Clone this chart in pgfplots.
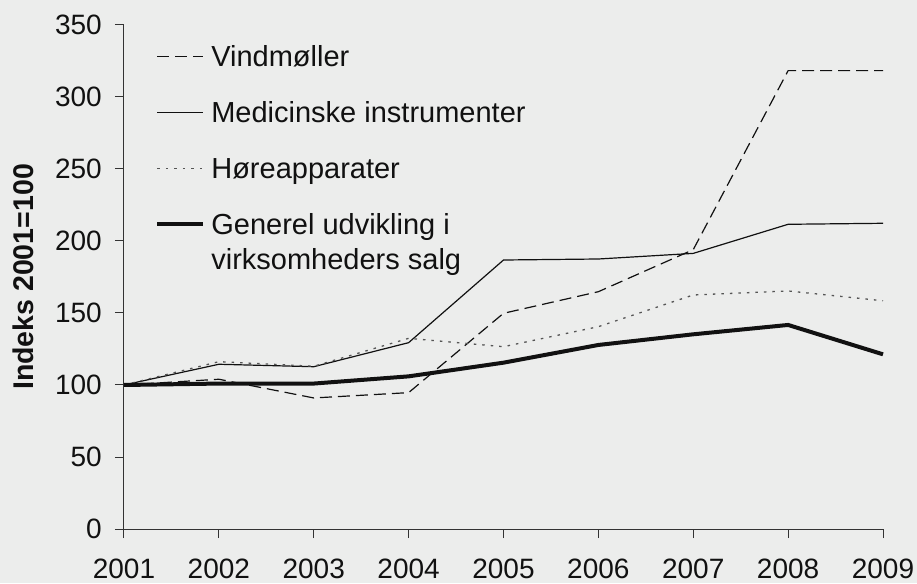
\documentclass[border=0pt]{standalone}
\usepackage{fontspec}
\setmainfont{Liberation Sans}
\usepackage{pgfplots}
\pgfplotsset{compat=1.18}
\usetikzlibrary{backgrounds}
\definecolor{bgc}{HTML}{ECEDEC}
\definecolor{axc}{HTML}{333333}
\definecolor{ln}{HTML}{111111}
\definecolor{dotc}{HTML}{555555}
\begin{document}
\begin{tikzpicture}
\begin{axis}[
  at={(0,0)}, anchor=south west,
  scale only axis, width=759pt, height=504pt,
  xmin=0, xmax=8, ymin=0, ymax=350,
  axis x line*=bottom, axis y line*=left,
  axis line style={axc, line width=1pt},
  tick style={axc, line width=1pt},
  tick align=outside, major tick length=9pt,
  xtick={0,...,8},
  xticklabels={2001,2002,2003,2004,2005,2006,2007,2008,2009},
  ytick={0,50,...,350},
  /pgf/number format/assume math mode=true,
  ticklabel style={font=\fontsize{28}{32}\selectfont, text=ln},
  yticklabel style={anchor=east, inner sep=0pt, xshift=-13pt},
  xticklabel style={anchor=north, inner sep=0pt, yshift=-21pt},
  every axis y label/.style={at={(axis description cs:-0.1331,0.5)}, anchor=center, rotate=90},
  ylabel={\bfseries Indeks 2001=100},
  ylabel style={font=\fontsize{28.5}{32}\selectfont, text=ln},
  legend style={at={(0.041,0.958)}, anchor=north west, draw=none, fill=none,
    inner sep=0pt, row sep=30pt, column sep=6pt,
    font=\fontsize{29}{35}\selectfont,
    nodes={inner sep=0pt, text height=20pt, text depth=6pt, text=ln},
    cells={anchor=base west}},
  legend image code/.code={\draw[#1] (0pt,10pt) -- (46pt,10pt);},
  clip=false,
]
\addplot[ln, line width=1.2pt, dash pattern=on 12pt off 6pt] coordinates {
 (0,100) (1,104) (2,91) (3,94.7) (4,149.8) (5,164.8) (6,194) (7,318.3) (8,318.3)};
\addlegendentry{Vindmøller}
\addplot[ln, line width=1.2pt] coordinates {
 (0,100) (1,114.4) (2,112.7) (3,129.4) (4,186.8) (5,187.5) (6,191.4) (7,211.6) (8,212.3)};
\addlegendentry{Medicinske instrumenter}
\addplot[dotc, line width=1.3pt, dash pattern=on 2.5pt off 6pt] coordinates {
 (0,100) (1,116.2) (2,113) (3,132.4) (4,126.6) (5,140.5) (6,162.5) (7,165.3) (8,158.5)};
\addlegendentry{Høreapparater}
\addplot[ln, line width=4pt] coordinates {
 (0,100) (1,101) (2,101) (3,106) (4,115.5) (5,127.8) (6,135.2) (7,141.7) (8,121.3)};
\addlegendentry{\parbox[t]{330pt}{Generel udvikling i\\virksomheders salg}}
\end{axis}
\begin{scope}[on background layer]
\fill[bgc] (-124pt,-54pt) rectangle (793pt,529pt);
\end{scope}
\pgfresetboundingbox
\path[use as bounding box] (-124pt,-54pt) rectangle (793pt,529pt);
\end{tikzpicture}
\end{document}
